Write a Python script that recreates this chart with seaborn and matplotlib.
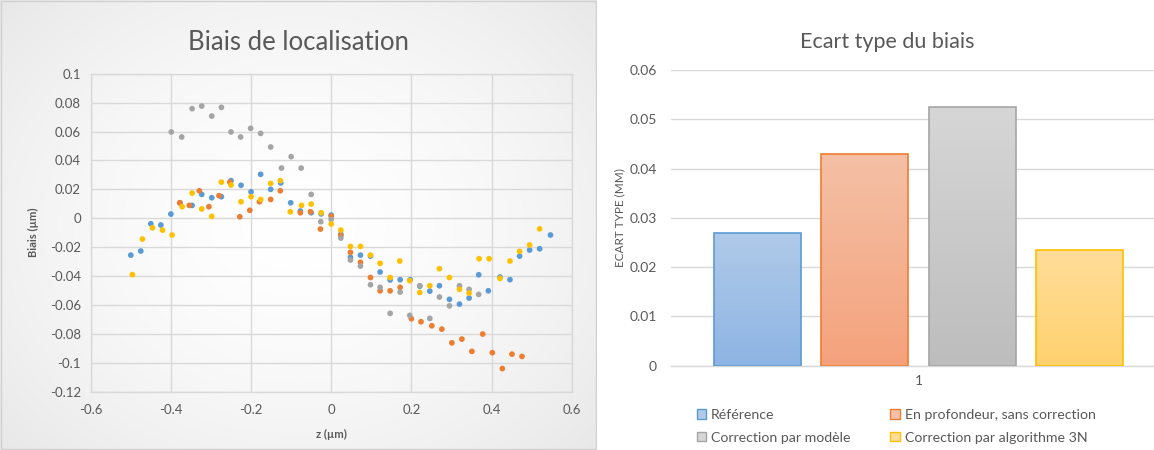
import numpy as np
import pandas as pd
import matplotlib
matplotlib.use("Agg")
import matplotlib.pyplot as plt
import seaborn as sns
from matplotlib.patches import Patch, Rectangle
from matplotlib.ticker import FuncFormatter, MultipleLocator
from matplotlib.colors import to_rgb

# ---------------- data ----------------
series_names = ["Référence", "En profondeur, sans correction",
                "Correction par modèle", "Correction par algorithme 3N"]

z_ref = [-0.5, -0.475, -0.45, -0.425, -0.4, -0.377, -0.347, -0.323, -0.298, -0.274,
         -0.25, -0.225, -0.2, -0.176, -0.151, -0.126, -0.101, -0.077, -0.05, -0.025,
         0.0, 0.024, 0.048, 0.073, 0.098, 0.122, 0.147, 0.172, 0.197, 0.221,
         0.246, 0.270, 0.295, 0.320, 0.344, 0.368, 0.392, 0.421, 0.446, 0.47,
         0.495, 0.52, 0.547]
biais_ref = [-0.0255, -0.0227, -0.0038, -0.0047, 0.0029, 0.0107, 0.0089, 0.0165, 0.0142, 0.0149,
             0.026, 0.0228, 0.0183, 0.0304, 0.020, 0.0244, 0.0107, 0.005, 0.0038, 0.003,
             0.0022, -0.011, -0.027, -0.0255, -0.0262, -0.0372, -0.0427, -0.0425, -0.0425, -0.047,
             -0.0504, -0.0467, -0.0561, -0.0594, -0.0552, -0.0391, -0.0502, -0.0407, -0.0425, -0.0262,
             -0.022, -0.0211, -0.0116]

z_prof = [-0.378, -0.354, -0.329, -0.305, -0.28, -0.253, -0.228, -0.203, -0.179, -0.151,
          -0.127, -0.077, -0.052, -0.027, 0.0, 0.024, 0.048, 0.073, 0.098, 0.122,
          0.147, 0.172, 0.2, 0.224, 0.251, 0.276, 0.301, 0.326, 0.351, 0.378,
          0.402, 0.427, 0.451, 0.476]
biais_prof = [0.0107, 0.0089, 0.019, 0.008, 0.0156, 0.025, 0.001, 0.0055, 0.0114, 0.013,
              0.019, 0.0038, 0.0045, -0.0075, 0.0015, -0.012, -0.0236, -0.0305, -0.041, -0.0502,
              -0.0502, -0.0478, -0.0695, -0.0716, -0.0744, -0.0767, -0.0862, -0.0836, -0.0921, -0.0801,
              -0.093, -0.104, -0.094, -0.0956]

z_mod = [-0.399, -0.373, -0.347, -0.323, -0.298, -0.274, -0.25, -0.226, -0.201, -0.176,
         -0.151, -0.124, -0.1, -0.075, -0.05, -0.026, 0.0, 0.024, 0.048, 0.073,
         0.098, 0.122, 0.147, 0.172, 0.196, 0.221, 0.246, 0.270, 0.295, 0.320,
         0.344, 0.368]
biais_mod = [0.0597, 0.0562, 0.0758, 0.0776, 0.0707, 0.0767, 0.0597, 0.0562, 0.0622, 0.0587,
             0.0493, 0.0347, 0.0426, 0.0347, 0.0165, -0.0024, -0.0008, -0.0137, -0.0289, -0.0331,
             -0.046, -0.0478, -0.0658, -0.0511, -0.0672, -0.0467, -0.0693, -0.0545, -0.0606, -0.0467,
             -0.0492, -0.0527]

z_3n = [-0.496, -0.471, -0.446, -0.421, -0.397, -0.372, -0.347, -0.323, -0.298, -0.274,
        -0.25, -0.225, -0.2, -0.176, -0.151, -0.127, -0.102, -0.074, -0.05, -0.025,
        0.0, 0.024, 0.048, 0.073, 0.098, 0.122, 0.147, 0.171, 0.196, 0.221,
        0.246, 0.270, 0.295, 0.320, 0.344, 0.369, 0.394, 0.421, 0.446, 0.47,
        0.495, 0.52]
biais_3n = [-0.039, -0.0144, -0.0066, -0.0082, -0.0116, 0.008, 0.0174, 0.0064, 0.0013, 0.025,
            0.023, 0.0114, 0.0149, 0.013, 0.0241, 0.026, 0.0045, 0.0089, 0.0098, 0.0038,
            -0.004, -0.0082, -0.0195, -0.0195, -0.0255, -0.0312, -0.041, -0.0296, -0.0432, -0.0513,
            -0.0467, -0.0349, -0.041, -0.0492, -0.0518, -0.028, -0.028, -0.0416, -0.0296, -0.0229,
            -0.0185, -0.0073]

categorie = ["1"]
ecart_type = [0.0270, 0.0430, 0.0525, 0.0234]

colors = ["#5B9BD5", "#ED7D31", "#A5A5A5", "#FFC000"]
grad_top = ["#B0CAE9", "#F5C0A6", "#D6D6D6", "#FFDD99"]
grad_bot = ["#8EB4E3", "#F4A27C", "#BDBDBD", "#FFD16E"]

# ---------------- style ----------------
sns.set_style("white")
plt.rcParams["font.family"] = ["Lato", "DejaVu Sans"]
txt = "#595959"
W, H = 1154, 450

fig = plt.figure(figsize=(W / 100, H / 100), dpi=100)
fig.patch.set_facecolor("white")

# left panel background (radial gradient + border)
bg = fig.add_axes([0, 0, 597 / W, 1], zorder=-10)
yy, xx = np.mgrid[0:1:200j, 0:1:300j]
r = np.sqrt(((xx - 0.5) / 0.55) ** 2 + ((yy - 0.5) / 0.6) ** 2)
t = np.clip(r / 1.3, 0, 1) ** 1.6
c0 = np.array([1.0, 1.0, 1.0])
c1 = np.array(to_rgb("#E6E6E6"))
img = c0[None, None, :] * (1 - t[..., None]) + c1[None, None, :] * t[..., None]
bg.imshow(img, extent=[0, 1, 0, 1], aspect="auto")
bg.add_patch(Rectangle((0.001, 0.002), 0.997, 0.995, fill=False, edgecolor="#D0D0D0", lw=1,
                       transform=bg.transAxes))
bg.set_axis_off()

# ---------------- left scatter ----------------
df_sc = pd.concat([
    pd.DataFrame({"z": z_ref, "b": biais_ref, "s": series_names[0]}),
    pd.DataFrame({"z": z_prof, "b": biais_prof, "s": series_names[1]}),
    pd.DataFrame({"z": z_mod, "b": biais_mod, "s": series_names[2]}),
    pd.DataFrame({"z": z_3n, "b": biais_3n, "s": series_names[3]}),
], ignore_index=True)

ax1 = fig.add_axes([90.7 / W, 1 - 391.7 / H, (571.7 - 90.7) / W, (391.7 - 73.7) / H])
ax1.set_facecolor("none")
sns.scatterplot(data=df_sc, x="z", y="b", hue="s", hue_order=series_names,
                palette=colors, s=17, linewidth=0, legend=False, ax=ax1, zorder=3)
ax1.set_xlim(-0.6, 0.6)
ax1.set_ylim(-0.12, 0.1)
ax1.xaxis.set_major_locator(MultipleLocator(0.2))
ax1.yaxis.set_major_locator(MultipleLocator(0.02))


def fmt(v, pos):
    v = round(v, 4)
    if abs(v) < 1e-9:
        return "0"
    return ("%g" % v)


ax1.xaxis.set_major_formatter(FuncFormatter(fmt))
ax1.yaxis.set_major_formatter(FuncFormatter(fmt))
ax1.grid(True, color="#D9D9D9", lw=1)
ax1.set_axisbelow(True)
for sp in ax1.spines.values():
    sp.set_visible(True)
    sp.set_color("#D9D9D9")
    sp.set_linewidth(1)
ax1.tick_params(axis="both", length=0, labelsize=9.5, labelcolor=txt)
ax1.tick_params(axis="x", pad=9)
ax1.tick_params(axis="y", pad=7)
ax1.set_xlabel("z (µm)", fontsize=8, fontweight="bold", color=txt)
ax1.xaxis.set_label_coords(0.5, -0.118)
ax1.set_ylabel("Biais (µm)", fontsize=8, fontweight="bold", color=txt)
ax1.yaxis.set_label_coords(-0.107, 0.5)
fig.text(298 / W, 1 - 42 / H, "Biais de localisation", fontsize=18.5, color=txt,
         ha="center", va="center")

# ---------------- right bar chart ----------------
df_bar = pd.DataFrame({"cat": categorie * len(series_names),
                       "serie": series_names, "val": ecart_type})
x_left, x_right = 670.7, 1166.5
ax2 = fig.add_axes([x_left / W, 1 - 365.7 / H, (x_right - x_left) / W, (365.7 - 70) / H])
sns.barplot(data=df_bar, x="cat", y="val", hue="serie", hue_order=series_names,
            palette=colors, width=0.866, gap=0.19, ax=ax2, legend=False,
            linewidth=1.2, zorder=2)
bars = [p for p in ax2.patches if isinstance(p, Rectangle)]
for i, p in enumerate(bars[:4]):
    x0, y0 = p.get_x(), p.get_y()
    w, h = p.get_width(), p.get_height()
    gt = np.array(to_rgb(grad_top[i]))
    gb = np.array(to_rgb(grad_bot[i]))
    tt = np.linspace(0, 1, 100)[:, None]
    g = gt[None, :] * (1 - tt) + gb[None, :] * tt
    g = np.repeat(g[:, None, :], 2, axis=1)
    im = ax2.imshow(g, extent=[x0, x0 + w, y0, y0 + h], aspect="auto", zorder=2.5,
                    interpolation="bilinear")
    im.set_clip_path(p)
    p.set_facecolor("none")
    p.set_edgecolor(colors[i])
    p.set_linewidth(1.2)
    p.set_zorder(3)
ax2.set_xlim(-0.5, 0.5)
ax2.set_ylim(0, 0.06)
ax2.yaxis.set_major_locator(MultipleLocator(0.01))
ax2.yaxis.set_major_formatter(FuncFormatter(fmt))
ax2.grid(True, axis="y", color="#D9D9D9", lw=1)
ax2.set_axisbelow(True)
for k in ["top", "right", "left"]:
    ax2.spines[k].set_visible(False)
ax2.spines["bottom"].set_color("#D9D9D9")
ax2.spines["bottom"].set_linewidth(1)
ax2.tick_params(axis="both", length=0, labelsize=10, labelcolor=txt)
ax2.tick_params(axis="x", pad=7)
ax2.tick_params(axis="y", pad=10)
ax2.set_xlabel("")
ax2.set_ylabel("ECART TYPE (MM)", fontsize=8.5, color=txt)
ax2.yaxis.set_label_coords((625 - x_left) / (x_right - x_left), 0.5)
fig.text(887 / W, 1 - 42 / H, "Ecart type du biais", fontsize=15.5, color=txt,
         ha="center", va="center")

order = [0, 2, 1, 3]
handles = [Patch(facecolor=grad_top[i], edgecolor=colors[i], lw=1) for i in order]
labels = [series_names[i] for i in order]
fig.legend(handles, labels, loc="upper left", bbox_to_anchor=(690 / W, 1 - 402 / H),
           ncol=2, frameon=False, fontsize=10.2, labelcolor=txt, borderpad=0,
           handlelength=0.65, handleheight=0.65, handletextpad=0.35,
           columnspacing=2.8, labelspacing=0.75)

fig.savefig("out.png", dpi=100, facecolor="white")
